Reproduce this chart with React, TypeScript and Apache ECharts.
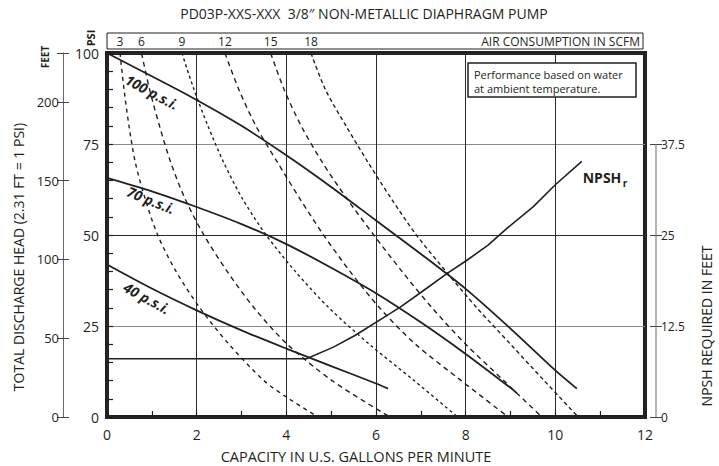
import React, { useEffect, useRef } from "react";
import * as echarts from "echarts";

// ---------- data ----------
const xTickValues = [0, 2, 4, 6, 8, 10, 12];
const psiTicks = [0, 25, 50, 75, 100];
const feetTicks = [0, 50, 100, 150, 200];
const npshTicks = [0, 12.5, 25, 37.5];

// discharge head (psi) vs capacity (gpm)
const psi100: number[][] = [
  [0, 100], [1, 93.6], [2, 87.1], [3, 80], [4, 71.9], [5, 63.2], [6, 54], [7, 44.8],
  [8, 35.2], [9, 24.3], [10, 12.8], [10.48, 7.8],
];
const psi70: number[][] = [
  [0, 65.7], [1, 62], [2, 57.7], [3, 53], [4, 47.5], [5, 41], [6, 34], [7, 26],
  [8, 17.3], [9, 8], [9.14, 6.6],
];
const psi40: number[][] = [
  [0, 41.9], [1, 35.3], [2, 29.3], [3, 23.8], [4, 18.8], [5, 14], [6, 9.2], [6.27, 7.8],
];

// NPSH required (feet) vs capacity
const npsh: number[][] = [
  [0, 8], [4.45, 8], [5.05, 9.6], [5.53, 11.2], [6.31, 14.2], [6.54, 15.1], [7.0, 17.1],
  [7.58, 19.7], [8.02, 21.5], [8.5, 23.6], [8.92, 25.9], [9.51, 28.9], [10, 31.9], [10.59, 35.1],
];

// air consumption curves (SCFM): [capacity, head psi]
const scfmLabels = [3, 6, 9, 12, 15, 18];
const scfm3: number[][] = [
  [0.29, 100], [0.38, 90], [0.49, 80], [0.63, 70], [0.85, 60], [1.13, 50], [1.54, 40],
  [2.07, 30], [2.72, 20], [3.5, 10], [4.06, 5], [4.71, 0],
];
const scfm6: number[][] = [
  [0.77, 100], [0.95, 90], [1.17, 80], [1.42, 70], [1.74, 60], [2.16, 50], [2.68, 40],
  [3.28, 30], [4.02, 20], [5.02, 10], [6.31, 0],
];
const scfm9: number[][] = [
  [1.67, 100], [1.94, 90], [2.25, 80], [2.6, 70], [3.02, 60], [3.55, 50], [4.2, 40],
  [4.95, 30], [5.85, 20], [6.85, 10], [7.82, 0],
];
const scfm12: number[][] = [
  [2.63, 100], [2.94, 90], [3.32, 80], [3.8, 70], [4.3, 60], [4.83, 50], [5.42, 40],
  [6.08, 30], [6.88, 20], [7.9, 10], [8.95, 0],
];
const scfm15: number[][] = [
  [3.65, 100], [3.95, 90], [4.33, 80], [4.8, 70], [5.35, 60], [5.95, 50], [6.58, 40],
  [7.25, 30], [8.0, 20], [8.85, 10], [9.7, 0],
];
const scfm18: number[][] = [
  [4.55, 100], [4.87, 90], [5.33, 80], [5.82, 70], [6.34, 60], [6.9, 50], [7.56, 40],
  [8.25, 30], [9.0, 20], [9.75, 10], [10.51, 0],
];
const scfmCurves = [scfm3, scfm6, scfm9, scfm12, scfm15, scfm18];
const scfmDash = [[4, 4], [5, 4], [3, 3], [5, 4], [5, 4], [4, 3]];

const INK = "#231f20";
const FONT = "'Open Sans', 'Noto Sans', sans-serif";

export default function App() {
  const ref = useRef<HTMLDivElement>(null);

  useEffect(() => {
    const chart = echarts.init(ref.current!, null, { renderer: "svg" });

    const solid = (name: string, data: number[][]) => ({
      name,
      type: "line",
      data,
      showSymbol: false,
      smooth: 0.3,
      lineStyle: { color: INK, width: 1.8 },
      xAxisIndex: 0,
      yAxisIndex: 0,
      z: 4,
    });

    const option: any = {
      animation: false,
      backgroundColor: "#ffffff",
      textStyle: { fontFamily: FONT },
      grid: {
        left: 107, top: 53, width: 538, height: 364,
        show: true, borderWidth: 4, borderColor: INK, backgroundColor: "transparent",
        containLabel: false,
      },
      xAxis: [
        {
          type: "value", min: 0, max: 12, interval: 2, position: "bottom",
          axisLine: { show: false }, axisTick: { show: false },
          axisLabel: { fontSize: 14, color: INK, margin: 10, fontFamily: FONT, customValues: xTickValues },
          splitLine: { show: true, lineStyle: { color: "#2a2a2a", width: 1 } },
        },
        {
          type: "value", min: 0, max: 12, interval: 1, position: "bottom",
          axisLine: { show: false },
          axisTick: { show: true, inside: true, length: 6, lineStyle: { color: INK, width: 1.2 } },
          axisLabel: { show: false }, splitLine: { show: false },
        },
      ],
      yAxis: [
        {
          type: "value", min: 0, max: 100, interval: 25, position: "left",
          axisLine: { show: false }, axisTick: { show: false },
          axisLabel: { fontSize: 14, color: INK, margin: 8, fontFamily: FONT, customValues: psiTicks },
          splitLine: { show: true, lineStyle: { color: ["#2a2a2a", "#8a8a8a", "#2a2a2a", "#8a8a8a", "#2a2a2a"], width: 1 } },
        },
        {
          type: "value", min: 0, max: 100, interval: 5, position: "left",
          axisLine: { show: false },
          axisTick: { show: true, inside: true, length: 6, lineStyle: { color: INK, width: 1.2 } },
          axisLabel: { show: false }, splitLine: { show: false },
        },
        {
          type: "value", min: 0, max: 231, interval: 50, position: "left", offset: 44,
          axisLine: { show: true, lineStyle: { color: "#6a6a6a", width: 1 } },
          axisTick: { show: true, length: 6, customValues: [0, 50, 100, 150, 200, 231], lineStyle: { color: "#444", width: 1 } },
          axisLabel: { fontSize: 13, color: INK, margin: 4, fontFamily: FONT, customValues: feetTicks },
          splitLine: { show: false },
        },
        {
          type: "value", min: 0, max: 231, interval: 50, position: "left", offset: 44,
          axisLine: { show: false },
          axisTick: { show: true, inside: true, length: 6, customValues: [0, 50, 100, 150, 200, 231], lineStyle: { color: "#444", width: 1 } },
          axisLabel: { show: false }, splitLine: { show: false },
        },
        {
          type: "value", min: 0, max: 50, interval: 12.5, position: "right", offset: 11,
          axisLine: { show: false },
          axisTick: { show: true, length: 6, customValues: npshTicks, lineStyle: { color: "#444", width: 1 } },
          axisLabel: { fontSize: 12, color: INK, margin: 5, fontFamily: FONT, customValues: npshTicks },
          splitLine: { show: false },
        },
        {
          type: "value", min: 0, max: 50, interval: 12.5, position: "right", offset: 11,
          axisLine: { show: false },
          axisTick: { show: true, inside: true, length: 6, customValues: npshTicks, lineStyle: { color: "#444", width: 1 } },
          axisLabel: { show: false }, splitLine: { show: false },
        },
      ],
      series: [
        ...scfmCurves.map((d, i) => ({
          name: `${scfmLabels[i]} SCFM`,
          type: "line",
          data: d,
          showSymbol: false,
          smooth: 0.3,
          lineStyle: { color: INK, width: 1.4, type: scfmDash[i] },
          xAxisIndex: 0,
          yAxisIndex: 0,
          z: 3,
        })),
        solid("100 p.s.i.", psi100),
        solid("70 p.s.i.", psi70),
        solid("40 p.s.i.", psi40),
        {
          name: "NPSHr",
          type: "line",
          data: npsh,
          showSymbol: false,
          lineStyle: { color: INK, width: 1.6 },
          xAxisIndex: 0,
          yAxisIndex: 4,
          z: 4,
        },
      ],
    };

    chart.setOption(option);

    const txt = (text: string, x: number, y: number, opts: any = {}) => ({
      type: "text",
      x,
      y,
      rotation: opts.rotation || 0,
      z: 100,
      style: {
        text,
        fill: INK,
        fontFamily: FONT,
        fontSize: opts.fontSize || 13,
        fontWeight: opts.fontWeight || "normal",
        fontStyle: opts.fontStyle || "normal",
        textAlign: opts.align || "center",
        align: opts.align || "center",
        textVerticalAlign: "middle",
        verticalAlign: "middle",
      },
    });

    const rightX = 645 + 11;
    const npshTopY = chart.convertToPixel({ yAxisIndex: 4 } as any, 37.5) as number;
    const npshZeroY = chart.convertToPixel({ yAxisIndex: 4 } as any, 0) as number;
    const scfmPx = scfmCurves.map((c) => chart.convertToPixel({ xAxisIndex: 0 } as any, c[0][0]) as number);

    const graphics: any[] = [
      txt("PD03P-XXS-XXX  3/8\u2033 NON-METALLIC DIAPHRAGM PUMP", 364, 13, { fontSize: 14 }),
      {
        type: "rect", z: 90,
        shape: { x: 107, y: 33, width: 536, height: 16 },
        style: { fill: "none", stroke: INK, lineWidth: 1 },
      },
      txt("AIR CONSUMPTION IN SCFM", 640, 41, { fontSize: 12, align: "right" }),
      ...scfmLabels.map((v, i) => txt(String(v), scfmPx[i], 41, { fontSize: 12 })),
      txt("PSI", 90, 38, { fontSize: 11, fontWeight: "bold", rotation: Math.PI / 2 }),
      txt("FEET", 45, 57, { fontSize: 10, fontWeight: "bold", rotation: Math.PI / 2 }),
      {
        type: "rect", z: 90,
        shape: { x: 468, y: 63, width: 168, height: 34 },
        style: { fill: "#ffffff", stroke: INK, lineWidth: 1.5 },
      },
      txt("Performance based on water", 474, 74, { fontSize: 11, align: "left" }),
      txt("at ambient temperature.", 474, 88, { fontSize: 11, align: "left" }),
      txt("100 p.s.i.", 152, 92, { fontSize: 14, fontWeight: "bold", fontStyle: "italic", rotation: -0.49 }),
      txt("70 p.s.i.", 151, 200, { fontSize: 14, fontWeight: "bold", fontStyle: "italic", rotation: -0.38 }),
      txt("40 p.s.i.", 147, 298, { fontSize: 14, fontWeight: "bold", fontStyle: "italic", rotation: -0.5 }),
      txt("NPSH", 602, 177, { fontSize: 14, fontWeight: "bold" }),
      txt("r", 625, 183, { fontSize: 10, fontWeight: "bold" }),
      txt("TOTAL DISCHARGE HEAD (2.31 FT = 1 PSI)", 18, 257, { fontSize: 14, rotation: Math.PI / 2 }),
      txt("NPSH REQUIRED IN FEET", 706, 326, { fontSize: 14, rotation: Math.PI / 2 }),
      txt("CAPACITY IN U.S. GALLONS PER MINUTE", 356, 456, { fontSize: 14.5 }),
      {
        type: "line", z: 90,
        shape: { x1: rightX, y1: npshTopY, x2: rightX, y2: npshZeroY },
        style: { stroke: "#6a6a6a", lineWidth: 1 },
      },
    ];

    chart.setOption({ graphic: graphics });

    return () => chart.dispose();
  }, []);

  return (
    <div
      ref={ref}
      style={{ position: "absolute", left: 0, top: 0, width: 719, height: 466, background: "#fff" }}
    />
  );
}
